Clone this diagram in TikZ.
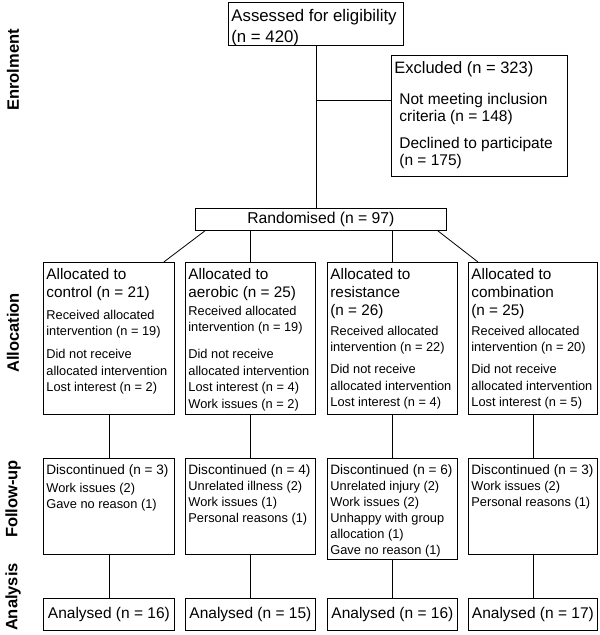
\documentclass[tikz,border=0pt]{standalone}
\usepackage{fontspec}
\setmainfont{Liberation Sans}
\newcommand{\boxtxt}[3]{\parbox[t][#2][t]{#1}{\raggedright#3}}
\newcommand{\allochead}{\fontsize{15.3}{18}\selectfont}
\newcommand{\allocitem}{\fontsize{12.8}{16.5}\selectfont}
\newcommand{\fuphead}{\fontsize{13.6}{17}\selectfont}
\newcommand{\fupitem}{\fontsize{12.8}{16}\selectfont}
\tikzset{cbox/.style={rectangle, draw=black, line width=0.8pt, anchor=north west, inner xsep=3pt, inner ysep=4pt},
  rbox/.style={rectangle, draw=black, line width=0.8pt, anchor=north west, inner sep=0pt},
  phase/.style={rotate=90, font=\fontsize{16.5}{20}\selectfont\bfseries},
  link/.style={line width=0.8pt}}

\begin{document}
\begin{tikzpicture}[x=1pt,y=-1pt]
\useasboundingbox (0,0) rectangle (600,635);
\node[phase] (lenrol) at (13,70) {Enrolment};
\node[phase] (lalloc) at (13,333) {Allocation};
\node[phase] (lfup) at (13,499) {Follow-up};
\node[phase] (lanl) at (13,597) {Analysis};
\node[cbox] (assess) at (228,2) {\boxtxt{169pt}{35pt}{\fontsize{16.8}{21}\selectfont\strut Assessed for eligibility\\(n = 420)}};
\node[cbox] (excl) at (391,55) {\boxtxt{170pt}{113pt}{\fontsize{16.5}{20}\selectfont\strut Excluded (n = 323)\par
  \vspace{13pt}\fontsize{15.5}{17}\selectfont\leftskip=5pt Not meeting inclusion\\criteria (n = 148)\par
  \vspace{10pt}Declined to participate\\(n = 175)}};
\node[rbox, minimum width=251pt, minimum height=22pt, font=\fontsize{15.7}{18}\selectfont] (rand) at (195,208) {Randomised (n = 97)};
\node[cbox] (alloc1) at (43,262) {\boxtxt{125pt}{144pt}{\allochead\strut Allocated to\\control (n = 21)\par
  \vspace{5.5pt}\allocitem Received allocated\\intervention (n = 19)\par
  \vspace{6.5pt}Did not receive\\allocated intervention\\Lost interest (n = 2)}};
\node[cbox] (alloc2) at (185,262) {\boxtxt{124pt}{144pt}{\allochead\strut Allocated to\\aerobic (n = 25)\par
  \vspace{1.5pt}\allocitem Received allocated\\intervention (n = 19)\par
  \vspace{10.5pt}Did not receive\\allocated intervention\\Lost interest (n = 4)\\Work issues (n = 2)}};
\node[cbox] (alloc3) at (327,262) {\boxtxt{124pt}{144pt}{\allochead\strut Allocated to\\resistance\\(n = 26)\par
  \vspace{3.5pt}\allocitem Received allocated\\intervention (n = 22)\par
  \vspace{5.5pt}Did not receive\\allocated intervention\\Lost interest (n = 4)}};
\node[cbox] (alloc4) at (468,262) {\boxtxt{123pt}{144pt}{\allochead\strut Allocated to\\combination\\(n = 25)\par
  \vspace{3.5pt}\allocitem Received allocated\\intervention (n = 20)\par
  \vspace{5.5pt}Did not receive\\allocated intervention\\Lost interest (n = 5)}};
\node[cbox] (fup1) at (43,458) {\boxtxt{125pt}{88pt}{\fuphead\strut Discontinued (n = 3)\par
  \vspace{2pt}\fupitem Work issues (2)\\Gave no reason (1)}};
\node[cbox] (fup2) at (185,458) {\boxtxt{124pt}{88pt}{\fuphead\strut Discontinued (n = 4)\par
  \fupitem Unrelated illness (2)\\Work issues (1)\\Personal reasons (1)}};
\node[cbox] (fup3) at (327,458) {\boxtxt{124pt}{93pt}{\fuphead\strut Discontinued (n = 6)\par
  \fupitem Unrelated injury (2)\\Work issues (2)\\Unhappy with group\\allocation (1)\\Gave no reason (1)}};
\node[cbox] (fup4) at (468,458) {\boxtxt{123pt}{88pt}{\fuphead\strut Discontinued (n = 3)\par
  \fupitem Work issues (2)\\Personal reasons (1)}};
\foreach \i/\x/\w/\n in {1/43/131/16,2/185/130/15,3/327/130/16,4/468/129/17}
  \node[rbox, minimum width=\w pt, minimum height=32pt, font=\fontsize{15.5}{18}\selectfont] (anl\i) at (\x,598) {Analysed (n = \n)};
\coordinate (split) at (315.5,100);
\draw[link] (assess.south) -- (assess.south |- rand.north);
\draw[link] (split) -- (split -| excl.west);
\draw[link] ([xshift=10pt]rand.south west) -- ([xshift=-11pt]alloc1.north east);
\draw[link] ([xshift=-9pt]rand.south east) -- ([xshift=10pt]alloc4.north west);
\draw[link] (alloc2.north |- rand.south) -- (alloc2.north);
\draw[link] (alloc3.north |- rand.south) -- (alloc3.north);
\foreach \i in {1,...,4}{
  \draw[link] (alloc\i.south) -- (fup\i.north);
  \draw[link] (fup\i.south) -- (anl\i.north);
}
\end{tikzpicture}
\end{document}
